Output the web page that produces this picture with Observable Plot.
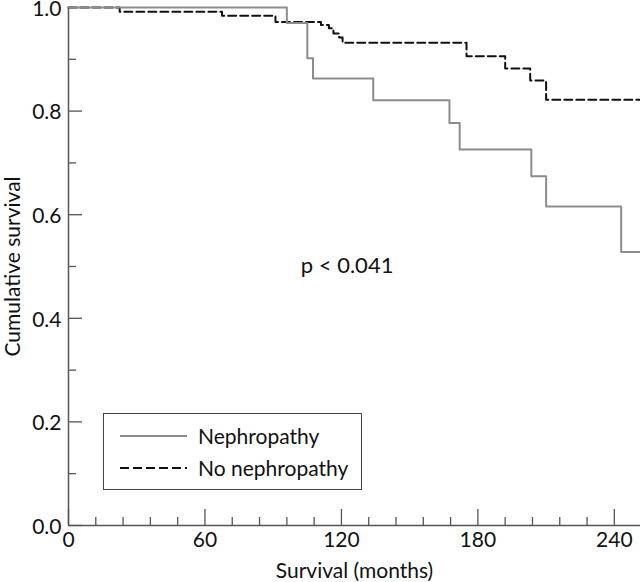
<!DOCTYPE html>
<html>
<head>
<meta charset="utf-8">
<script src="https://cdn.jsdelivr.net/npm/d3@7"></script>
<script src="https://cdn.jsdelivr.net/npm/@observablehq/plot@0.6"></script>
<style>
  html, body { margin: 0; padding: 0; background: #fff; }
  #wrap { position: relative; width: 640px; height: 582px; font-family: Lato, "DejaVu Sans", sans-serif; }
  #legend { position: absolute; left: 103px; top: 413px; width: 259px; height: 77px; border: 1.5px solid #444; background: #fff; box-sizing: border-box; }
  #legend .row { position: absolute; left: 16px; display: flex; align-items: center; font-size: 21px; color: #111; }
  #legend svg { margin-right: 11px; }
</style>
</head>
<body>
<div id="wrap"></div>
<script>
// ---- data ----
const nephMonths   = [0, 96, 105, 107.5, 134, 167.5, 172, 203.5, 210, 243, 251.5];
const nephSurv     = [1, 0.97, 0.902, 0.863, 0.821, 0.777, 0.726, 0.674, 0.616, 0.528, 0.528];
const noNephMonths = [0, 22.5, 67.5, 91, 111, 114.5, 116.5, 119, 120.5, 175, 192, 203, 210, 251.5];
const noNephSurv   = [1, 0.992, 0.984, 0.972, 0.966, 0.96, 0.95, 0.942, 0.932, 0.906, 0.882, 0.859, 0.822, 0.822];
const seriesNames  = ["Nephropathy", "No nephropathy"];
const xMajorTicks  = [0, 60, 120, 180, 240];
const xMinorTicks  = [12, 24, 36, 48, 72, 84, 96, 108, 132, 144, 156, 168, 192, 204, 216, 228];
const yMajorTicks  = [0, 0.2, 0.4, 0.6, 0.8, 1.0];
const yMinorTicks  = [0.1, 0.3, 0.5, 0.7, 0.9];
const pLabel       = "p < 0.041";
const pPosition    = {month: 122.5, surv: 0.502};

const neph = nephMonths.map((m, i) => ({month: m, surv: nephSurv[i]}));
const noNeph = noNephMonths.map((m, i) => ({month: m, surv: noNephSurv[i]}));

const axisColor = "#555";
const chart = Plot.plot({
  width: 640,
  height: 582,
  marginLeft: 68,
  marginRight: 0,
  marginTop: 7,
  marginBottom: 57,
  style: {fontFamily: "Lato, 'DejaVu Sans', sans-serif", fontSize: "21px", color: "#111", background: "#fff", overflow: "visible"},
  x: {domain: [0, 251.5]},
  y: {domain: [0, 1]},
  marks: [
    Plot.ruleY([0], {stroke: axisColor, strokeWidth: 1.5}),
    Plot.ruleX([0], {stroke: axisColor, strokeWidth: 1.5}),
    Plot.axisX({ticks: xMajorTicks, tickSize: -16, tickFormat: () => "", stroke: axisColor, strokeWidth: 1.3, label: null}),
    Plot.axisX({ticks: xMinorTicks, tickSize: -8, tickFormat: () => "", stroke: axisColor, strokeWidth: 1.3, label: null}),
    Plot.axisX({ticks: xMajorTicks, tickSize: 0, tickPadding: 7, tickFormat: d3.format("d"), label: "Survival (months)", labelAnchor: "center", labelOffset: 52, labelArrow: "none", fill: "#111", fontSize: 21}),
    Plot.axisY({ticks: yMajorTicks, tickSize: -14, tickFormat: () => "", stroke: axisColor, strokeWidth: 1.3, label: null}),
    Plot.axisY({ticks: yMinorTicks, tickSize: -8, tickFormat: () => "", stroke: axisColor, strokeWidth: 1.3, label: null}),
    Plot.axisY({ticks: yMajorTicks, tickSize: 0, tickPadding: 7, dy: 1.5, tickFormat: d3.format(".1f"), label: "Cumulative survival", labelAnchor: "center", labelOffset: 63, labelArrow: "none", fill: "#111", fontSize: 21}),
    Plot.line(noNeph, {x: "month", y: "surv", curve: "step-after", stroke: "#111", strokeWidth: 2, strokeDasharray: "8,4"}),
    Plot.line(neph, {x: "month", y: "surv", curve: "step-after", stroke: "#8c8c8c", strokeWidth: 2}),
    Plot.text([pPosition], {x: "month", y: "surv", text: () => pLabel, fontSize: 22, fill: "#111", textAnchor: "middle"})
  ]
});
const wrap = document.getElementById("wrap");
wrap.appendChild(chart);

const legend = document.createElement("div");
legend.id = "legend";
const styles = [{stroke: "#8c8c8c", dash: null}, {stroke: "#111", dash: "9,4"}];
seriesNames.forEach((name, i) => {
  const row = document.createElement("div");
  row.className = "row";
  row.style.top = (i === 0 ? 9 : 41) + "px";
  const s = styles[i];
  row.innerHTML = `<svg width="67" height="20"><line x1="0" x2="67" y1="10" y2="10" stroke="${s.stroke}" stroke-width="2" ${s.dash ? `stroke-dasharray="${s.dash}"` : ""}/></svg><span>${name}</span>`;
  legend.appendChild(row);
});
wrap.appendChild(legend);
</script>
</body>
</html>
